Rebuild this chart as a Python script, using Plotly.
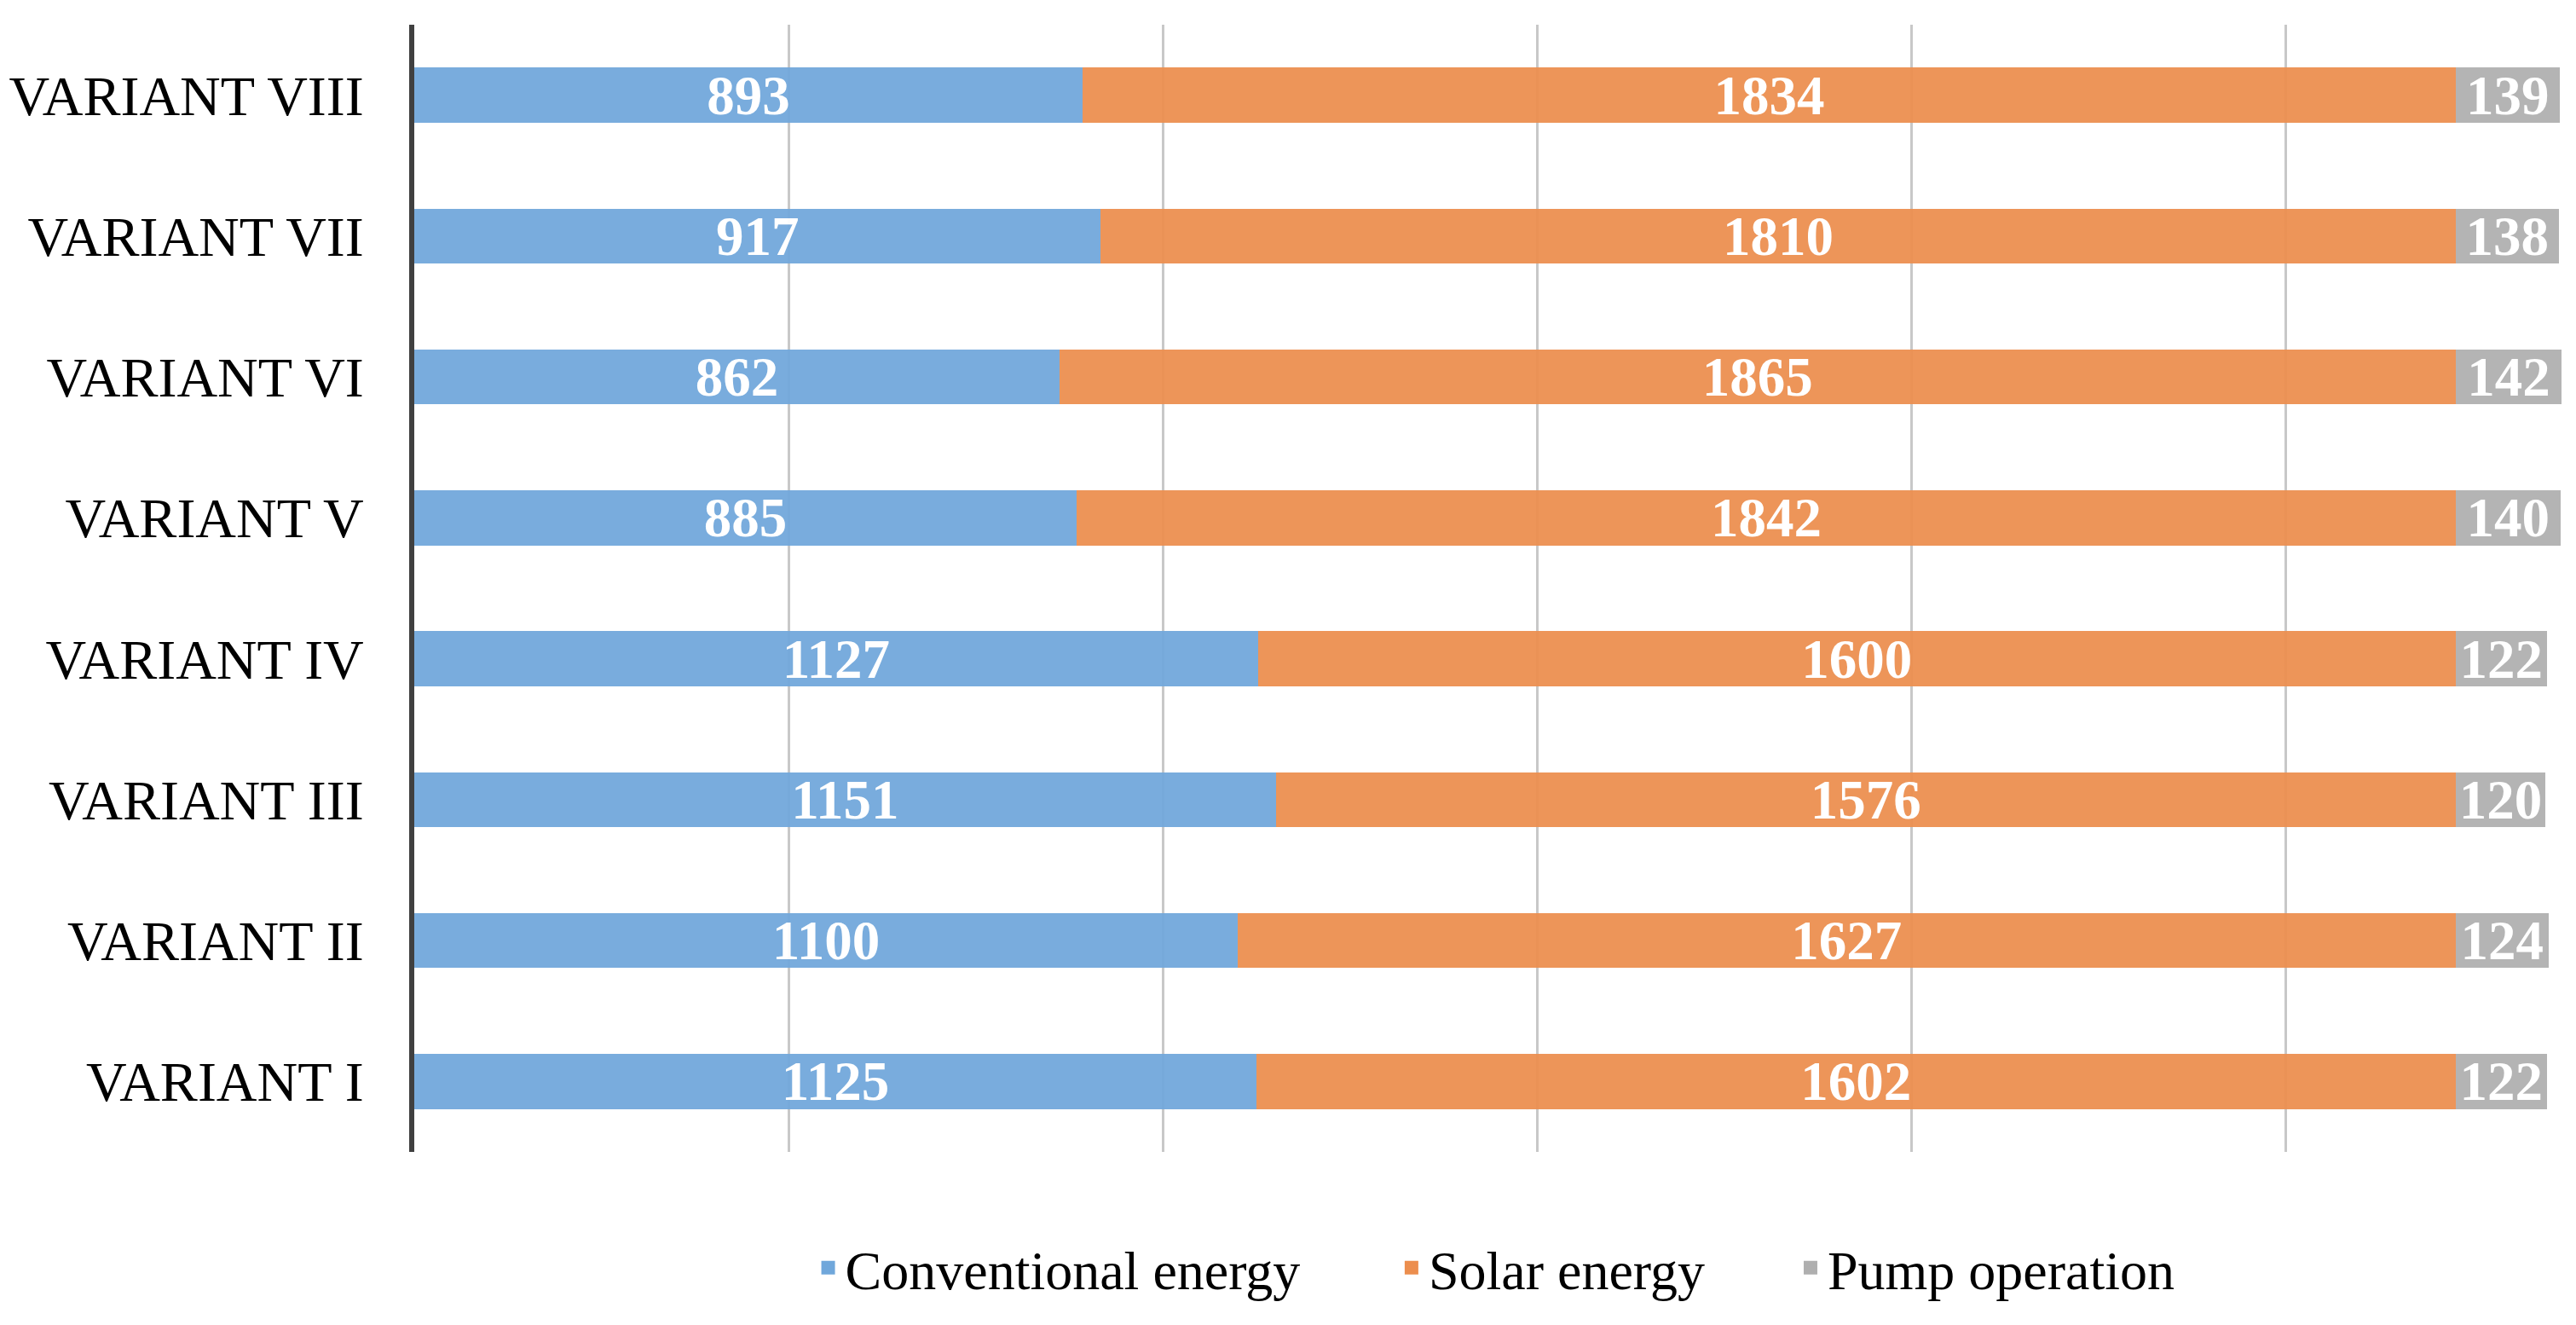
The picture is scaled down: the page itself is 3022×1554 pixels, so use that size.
import plotly.graph_objects as go

categories = ["VARIANT I", "VARIANT II", "VARIANT III", "VARIANT IV",
              "VARIANT V", "VARIANT VI", "VARIANT VII", "VARIANT VIII"]
conventional = [1125, 1100, 1151, 1127, 885, 862, 917, 893]
solar = [1602, 1627, 1576, 1600, 1842, 1865, 1810, 1834]
pump = [122, 124, 120, 122, 140, 142, 138, 139]

series_names = ["Conventional energy", "Solar energy", "Pump operation"]
series_values = [conventional, solar, pump]
colors = ["#70A7DB", "#EC8E4E", "#AFAFAF"]

FONT = "Liberation Serif, Times New Roman, serif"

fig = go.Figure()
for name, vals, col in zip(series_names, series_values, colors):
    fig.add_trace(go.Bar(
        y=categories, x=vals, name=name, orientation="h",
        marker=dict(color=col, line=dict(width=0)), opacity=0.94,
        text=[str(v) for v in vals], textposition="inside",
        insidetextanchor="middle", constraintext="none",
        insidetextfont=dict(family=FONT, size=65, color="white", weight="bold"),
        showlegend=False, hoverinfo="x+name",
    ))

legend_ids = ["legend", "legend2", "legend3"]
legend_x = [0.183, 0.452, 0.636]
for name, col, lid in zip(series_names, colors, legend_ids):
    fig.add_trace(go.Scatter(
        x=[None], y=[None], mode="markers", name=name,
        marker=dict(symbol="square", size=28, color=col),
        showlegend=True, legend=lid,
    ))

legend_common = dict(orientation="h", yanchor="middle", y=-0.103, xanchor="left",
                     font=dict(family=FONT, size=64, color="black"),
                     bgcolor="rgba(0,0,0,0)", borderwidth=0, itemwidth=30)

fig.update_layout(
    width=3022, height=1554,
    margin=dict(l=478, r=0, t=21, b=211),
    paper_bgcolor="white", plot_bgcolor="white",
    barmode="stack", bargap=0.61,
    font=dict(family=FONT, size=64, color="black"),
    legend=dict(x=legend_x[0], **legend_common),
    legend2=dict(x=legend_x[1], **legend_common),
    legend3=dict(x=legend_x[2], **legend_common),
    xaxis=dict(range=[0, 2897], dtick=500, tick0=0, showgrid=True,
               gridcolor="#C8C8C8", gridwidth=3, showticklabels=False,
               zeroline=False, showline=False, ticks=""),
    yaxis=dict(categoryorder="array", categoryarray=categories,
               showline=True, linecolor="#404040", linewidth=6,
               showgrid=False, ticks="", ticklabelstandoff=40,
               tickfont=dict(family=FONT, size=66, color="black")),
)

fig.write_html("out.html")
